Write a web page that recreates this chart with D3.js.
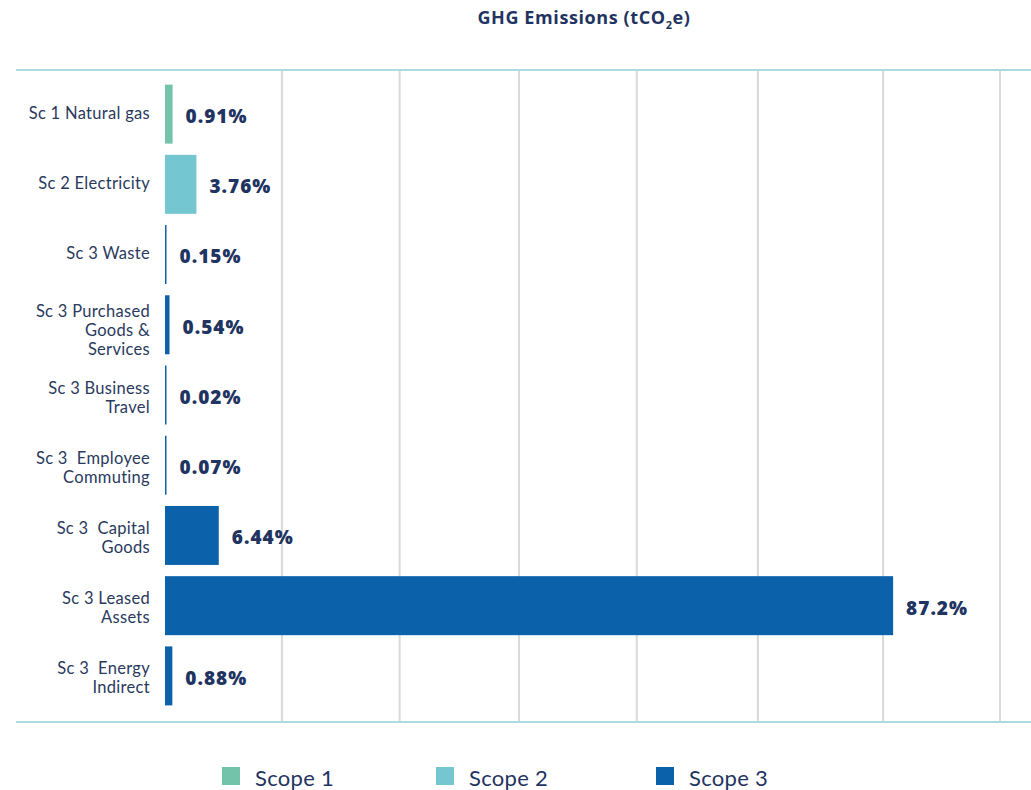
<!DOCTYPE html>
<html>
<head>
<meta charset="utf-8">
<script src="https://cdn.jsdelivr.net/npm/d3@7"></script>
<style>
  body { margin: 0; background: #fff; }
  svg { font-family: "Lato", "Open Sans", sans-serif; }
</style>
</head>
<body>
<svg id="chart"></svg>
<script>
// Chart data
const categories = [
    ["Sc 1 Natural gas"],
    ["Sc 2 Electricity"],
    ["Sc 3 Waste"],
    ["Sc 3 Purchased", "Goods &", "Services"],
    ["Sc 3 Business", "Travel"],
    ["Sc 3  Employee", "Commuting"],
    ["Sc 3  Capital", "Goods"],
    ["Sc 3 Leased", "Assets"],
    ["Sc 3  Energy", "Indirect"]
];
const shares = [0.91, 3.76, 0.15, 0.54, 0.02, 0.07, 6.44, 87.2, 0.88];
const value_labels = ["0.91%", "3.76%", "0.15%", "0.54%", "0.02%", "0.07%", "6.44%", "87.2%", "0.88%"];
const scopes = ["Scope 1", "Scope 2", "Scope 3", "Scope 3", "Scope 3", "Scope 3", "Scope 3", "Scope 3", "Scope 3"];
const legend_items = ["Scope 1", "Scope 2", "Scope 3"];
// Gridline positions (in % of the axis)
const grid_ticks = [14.0, 28.1, 42.4, 56.5, 71.0, 86.0, 100];

// Layout
const width = 1031, height = 790;
const plot_left = 165, plot_right = 1000;
const plot_top = 70, plot_bottom = 722;
const navy = "#1f3461";

const svg = d3.select("#chart")
    .attr("width", width)
    .attr("height", height);

// Scales
const x_scale = d3.scaleLinear()
    .domain([0, 100])
    .range([plot_left, plot_right]);

const y_scale = d3.scaleBand()
    .domain(d3.range(categories.length))
    .range([79, 711])
    .paddingInner(0.16)
    .paddingOuter(0.08);

const color_scale = d3.scaleOrdinal()
    .domain(legend_items)
    .range(["#72c3aa", "#74c6d1", "#0c61ab"]);

// Vertical gridlines
svg.append("g")
    .selectAll("line")
    .data(grid_ticks)
    .enter().append("line")
    .attr("x1", d => x_scale(d))
    .attr("x2", d => x_scale(d))
    .attr("y1", plot_top)
    .attr("y2", plot_bottom)
    .attr("stroke", "#d9d9d9")
    .attr("stroke-width", 2);

// Top and bottom frame lines
svg.append("g")
    .selectAll("line")
    .data([plot_top, plot_bottom])
    .enter().append("line")
    .attr("x1", 16)
    .attr("x2", width)
    .attr("y1", d => d)
    .attr("y2", d => d)
    .attr("stroke", "#a9dde2")
    .attr("stroke-width", 2);

// Title
const title = svg.append("text")
    .attr("x", 584)
    .attr("y", 24)
    .attr("text-anchor", "middle")
    .attr("fill", navy)
    .attr("font-family", "Open Sans")
    .attr("font-size", 18)
    .attr("font-weight", "bold")
    .attr("letter-spacing", 0.6);
title.append("tspan").text("GHG Emissions (tCO");
title.append("tspan").text("2").attr("font-size", 11).attr("dy", 5);
title.append("tspan").text("e)").attr("dy", -5);

// Bars
svg.append("g")
    .selectAll("rect")
    .data(shares)
    .enter().append("rect")
    .attr("x", x_scale(0))
    .attr("y", (d, i) => y_scale(i))
    .attr("width", d => Math.max(1.5, x_scale(d) - x_scale(0)))
    .attr("height", y_scale.bandwidth())
    .attr("fill", (d, i) => color_scale(scopes[i]));

// Value labels
svg.append("g")
    .selectAll("text")
    .data(shares)
    .enter().append("text")
    .attr("x", d => Math.max(x_scale(0) + 1.5, x_scale(d)) + 13)
    .attr("y", (d, i) => y_scale(i) + y_scale.bandwidth() / 2 + 2)
    .attr("dy", "0.36em")
    .attr("fill", navy)
    .attr("font-family", "Open Sans")
    .attr("font-size", 19)
    .attr("font-weight", 800)
    .attr("letter-spacing", 1)
    .text((d, i) => value_labels[i]);

// Category labels
const line_height = 19;
const cat_labels = svg.append("g")
    .selectAll("text")
    .data(categories)
    .enter().append("text")
    .attr("text-anchor", "end")
    .attr("fill", "#2a3a5e")
    .attr("font-size", 16.5)
    .attr("y", (d, i) => y_scale(i) + y_scale.bandwidth() / 2 - 1 - (d.length - 1) * 6);
cat_labels.each(function (d) {
    const t = d3.select(this);
    const y0 = +t.attr("y");
    d.forEach((line, j) => {
        t.append("tspan")
            .attr("x", 150)
            .attr("y", y0 + j * line_height)
            .attr("dy", "0.34em")
            .attr("letter-spacing", 0.3)
            .style("white-space", "pre")
            .text(line);
    });
});

// Legend
const legend_x = [222, 436, 656];
const legend = svg.append("g")
    .selectAll("g")
    .data(legend_items)
    .enter().append("g")
    .attr("transform", (d, i) => "translate(" + legend_x[i] + ",767)");
legend.append("rect")
    .attr("width", 18)
    .attr("height", 18)
    .attr("fill", d => color_scale(d));
legend.append("text")
    .attr("x", 33)
    .attr("y", 10)
    .attr("dy", "0.4em")
    .attr("fill", navy)
    .attr("font-size", 22)
    .attr("letter-spacing", 0.3)
    .text(d => d);
</script>
</body>
</html>
